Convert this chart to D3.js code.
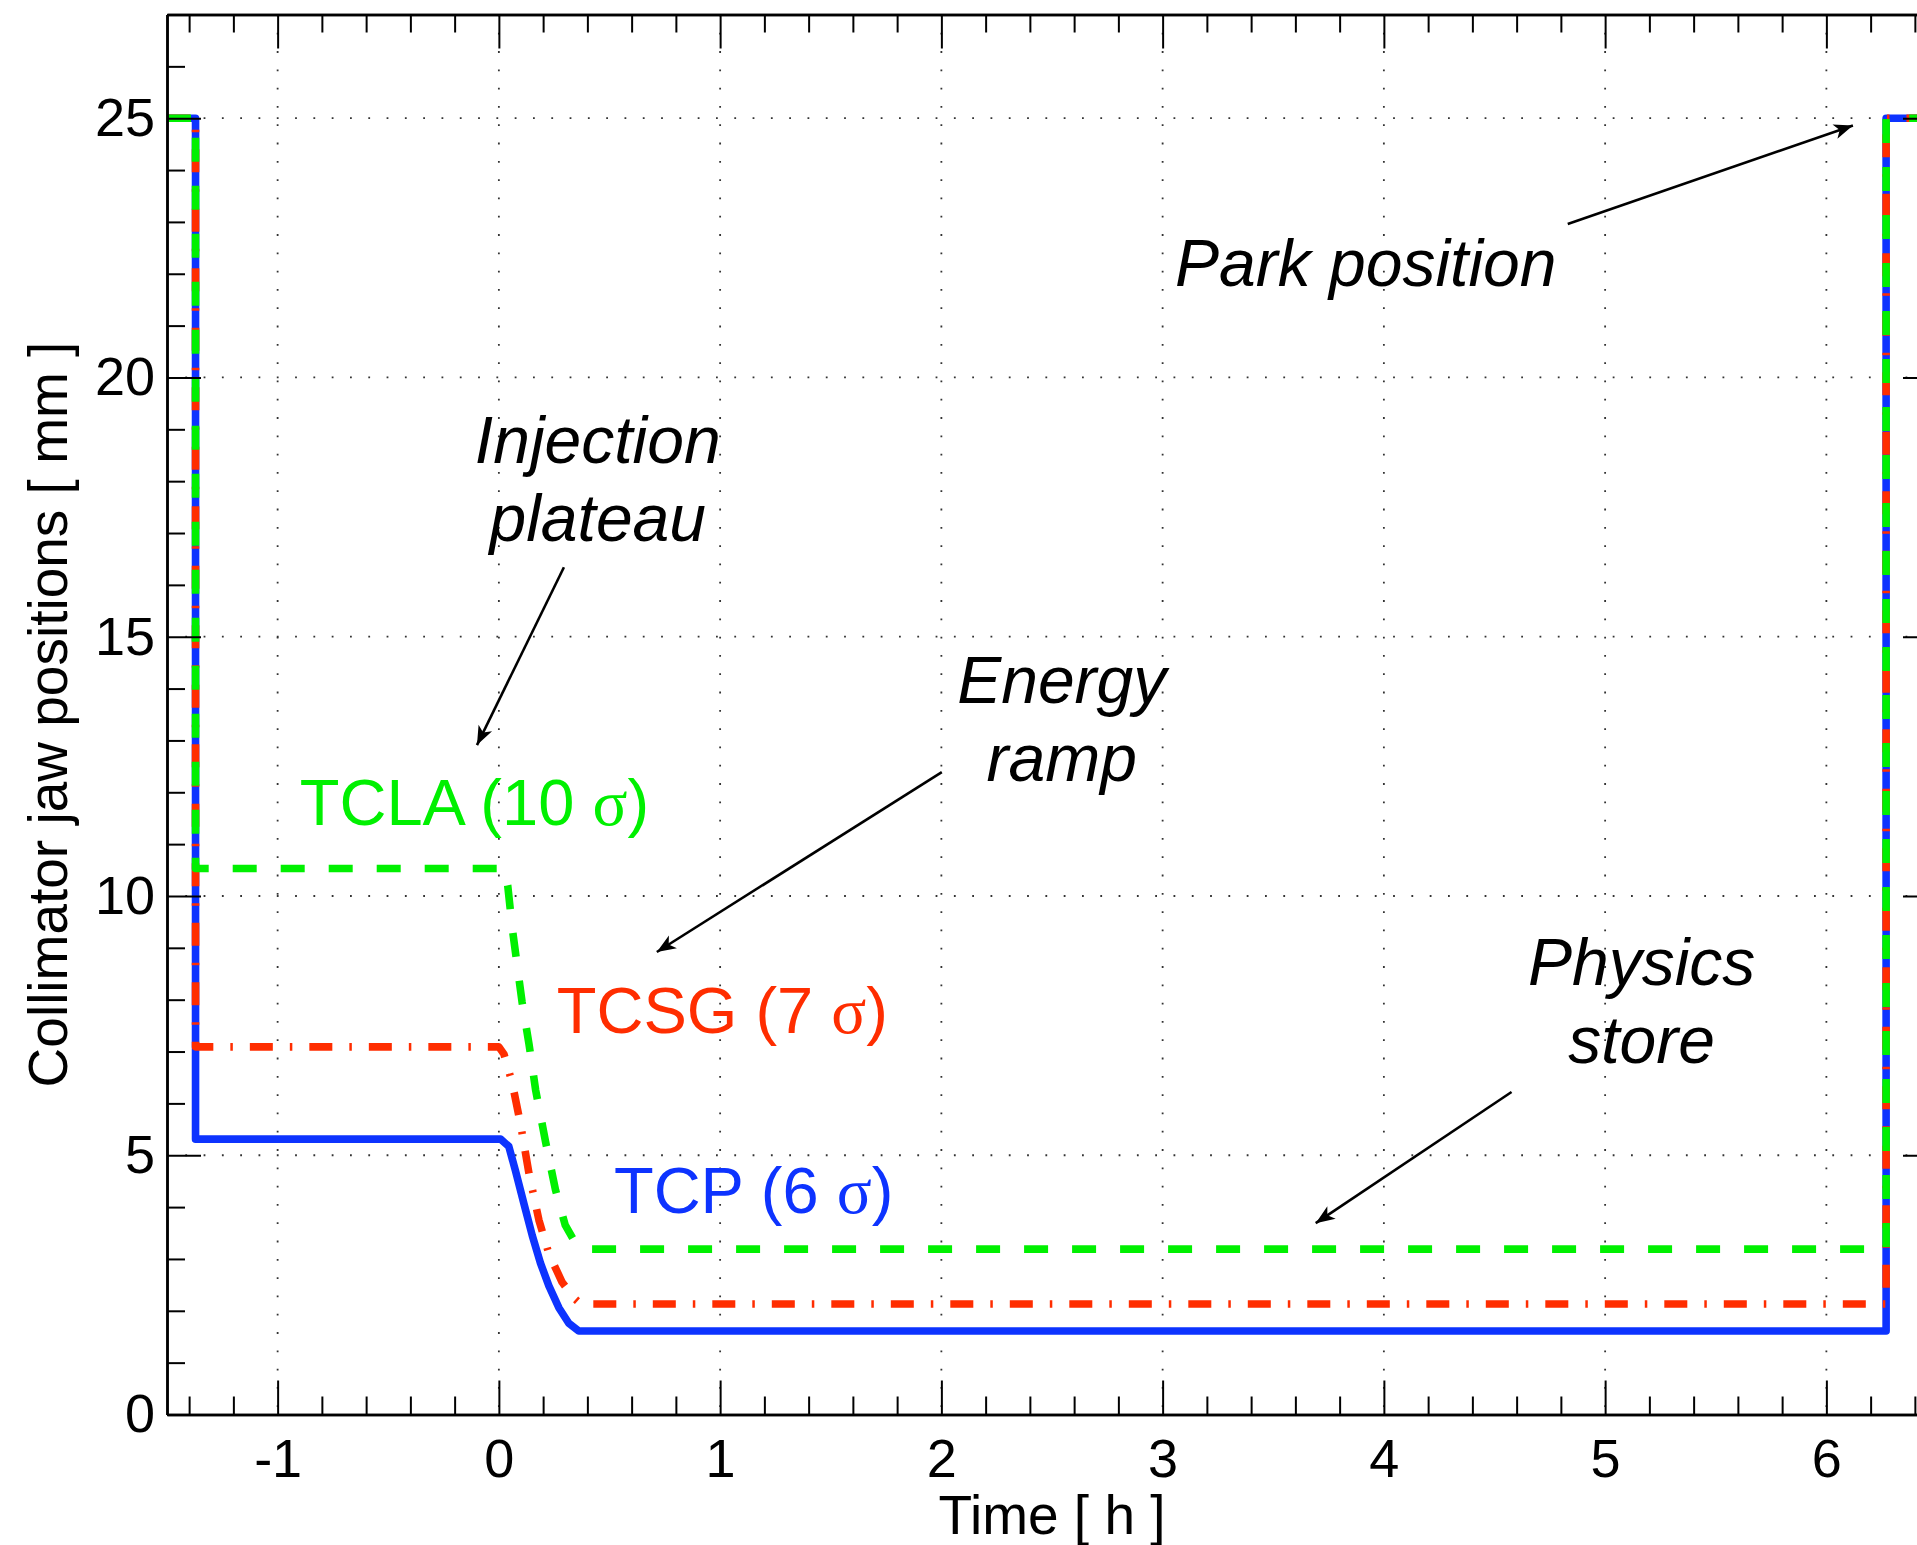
<!DOCTYPE html>
<html>
<head>
<meta charset="utf-8">
<script src="https://cdn.jsdelivr.net/npm/d3@7"></script>
<style>
  body { margin: 0; background: #fff; }
  svg { display: block; }
  text { white-space: pre; }
</style>
</head>
<body>
<div id="chart"></div>
<script>

// jaw positions [mm] versus time [h]
let tcpTime = [-1.5, -1.371, -1.371, 0.008, 0.045, 0.075, 0.113, 0.151, 0.188, 0.226, 0.271, 0.316, 0.361, 6.27, 6.27, 6.5];
let tcpPos  = [25, 25, 5.31, 5.31, 5.17, 4.7, 4.07, 3.45, 2.92, 2.48, 2.06, 1.76, 1.61, 1.61, 25, 25];

let tcsgTime = [-1.5, -1.371, -1.371, 0.0, 0.023, 0.06, 0.098, 0.136, 0.181, 0.226, 0.286, 0.339, 0.37, 6.27, 6.27, 6.5];
let tcsgPos  = [25, 25, 7.09, 7.09, 6.95, 6.4, 5.6, 4.65, 3.75, 3.1, 2.55, 2.25, 2.13, 2.13, 25, 25];

let tclaTime = [-1.5, -1.371, -1.371, 0.02, 0.04, 0.061, 0.105, 0.136, 0.166, 0.211, 0.256, 0.30, 0.34, 0.385, 6.27, 6.27, 6.5];
let tclaPos  = [25, 25, 10.53, 10.53, 10.2, 9.36, 7.95, 7.15, 6.26, 5.26, 4.33, 3.65, 3.35, 3.19, 3.19, 25, 25];

let xTicks = [-1, 0, 1, 2, 3, 4, 5, 6];
let yTicks = [0, 5, 10, 15, 20, 25];

let blue = "#0d33ff", red = "#ff2d00", green = "#00f000";
let sans = "'Liberation Sans', Arial, Helvetica, sans-serif";
let serif = "'Liberation Serif', 'Times New Roman', serif";

let width = 1917, height = 1545;

let svg = d3.select("#chart").append("svg")
svg.attr("width", width)
svg.attr("height", height)

// right edge of the axes box falls just outside the picture, as in the original
let x = d3.scaleLinear().domain([-1.5, 6.5]).range([167, 1937]);
let y = d3.scaleLinear().domain([0, 27]).range([1414.5, 14.5]);

let xMinor = d3.range(-14, 65, 2).map(d => d / 10).filter(d => !Number.isInteger(d));
let yMinor = d3.range(0, 28).filter(d => d % 5 != 0);

let defs = svg.append("defs");
defs.append("marker")
    .attr("id", "head")
    .attr("viewBox", "-20 -10 22 20")
    .attr("refX", 0).attr("refY", 0)
    .attr("markerWidth", 22).attr("markerHeight", 20)
    .attr("markerUnits", "userSpaceOnUse")
    .attr("orient", "auto")
  .append("path")
    .attr("d", "M0,0 L-19,-7.5 L-14,0 L-19,7.5 Z")
    .attr("fill", "black");

// dotted grid
let grid = svg.append("g")
    .attr("stroke", "#333")
    .attr("stroke-width", 1.8)
    .attr("stroke-dasharray", "1.8,16.5");

grid.selectAll(".gx")
    .data(xTicks)
    .enter()
    .append("line")
    .attr("x1", d => x(d)).attr("x2", d => x(d))
    .attr("y1", y(27)).attr("y2", y(0));

grid.selectAll(".gy")
    .data(yTicks.filter(d => d > 0))
    .enter()
    .append("line")
    .attr("x1", x(-1.5)).attr("x2", x(6.5))
    .attr("y1", d => y(d)).attr("y2", d => y(d));

// collimator curves
let series = [
  { time: tcpTime, pos: tcpPos, color: blue, dash: null },
  { time: tcsgTime, pos: tcsgPos, color: red, dash: "23,17,2.5,17" },
  { time: tclaTime, pos: tclaPos, color: green, dash: "24,24" }
];

let line = d3.line()
    .x(d => x(d[0]))
    .y(d => y(d[1]));

svg.selectAll(".curve")
    .data(series)
    .enter()
    .append("path")
    .attr("d", s => line(s.time.map((t, i) => [t, s.pos[i]])))
    .attr("fill", "none")
    .attr("stroke", s => s.color)
    .attr("stroke-width", 7.6)
    .attr("stroke-linejoin", "round")
    .attr("stroke-dasharray", s => s.dash);

// axes, ticks pointing inward on all four sides
function styleAxis(g) {
  g.select(".domain").attr("stroke", "black").attr("stroke-width", 2.5);
  g.selectAll(".tick line").attr("stroke", "black").attr("stroke-width", 2);
  g.selectAll("text").attr("font-family", sans).attr("font-size", 54).attr("fill", "black");
}

let fmt = d => String(d);

svg.append("g")
    .attr("transform", `translate(0,${y(0)})`)
    .call(d3.axisBottom(x).tickValues(xTicks).tickSize(-34).tickSizeOuter(0).tickPadding(24).tickFormat(fmt))
    .call(styleAxis);
svg.append("g")
    .attr("transform", `translate(0,${y(0)})`)
    .call(d3.axisBottom(x).tickValues(xMinor).tickSize(-18).tickSizeOuter(0).tickFormat(""))
    .call(styleAxis);

svg.append("g")
    .attr("transform", `translate(0,${y(27)})`)
    .call(d3.axisTop(x).tickValues(xTicks).tickSize(-34).tickSizeOuter(0).tickFormat(""))
    .call(styleAxis);
svg.append("g")
    .attr("transform", `translate(0,${y(27)})`)
    .call(d3.axisTop(x).tickValues(xMinor).tickSize(-18).tickSizeOuter(0).tickFormat(""))
    .call(styleAxis);

svg.append("g")
    .attr("transform", `translate(${x(-1.5)},0)`)
    .call(d3.axisLeft(y).tickValues(yTicks).tickSize(-34).tickSizeOuter(0).tickPadding(12).tickFormat(fmt))
    .call(styleAxis);
svg.append("g")
    .attr("transform", `translate(${x(-1.5)},0)`)
    .call(d3.axisLeft(y).tickValues(yMinor).tickSize(-18).tickSizeOuter(0).tickFormat(""))
    .call(styleAxis);

svg.append("g")
    .attr("transform", `translate(${x(6.5)},0)`)
    .call(d3.axisRight(y).tickValues(yTicks).tickSize(-34).tickSizeOuter(0).tickFormat(""))
    .call(styleAxis);
svg.append("g")
    .attr("transform", `translate(${x(6.5)},0)`)
    .call(d3.axisRight(y).tickValues(yMinor).tickSize(-18).tickSizeOuter(0).tickFormat(""))
    .call(styleAxis);

// axis titles
svg.append("text")
    .attr("x", x(2.5)).attr("y", 1534)
    .attr("text-anchor", "middle")
    .attr("font-family", sans).attr("font-size", 55)
    .text("Time [ h ]");

svg.append("text")
    .attr("transform", `translate(67,${y(13.5)}) rotate(-90)`)
    .attr("text-anchor", "middle")
    .attr("font-family", sans).attr("font-size", 55)
    .text("Collimator jaw positions [ mm ]");

// series labels, sigma set in a serif face
let seriesLabels = [
  { name: "TCLA (10 ", t: -0.9, v: 11.37, color: green },
  { name: "TCSG (7 ", t: 0.262, v: 7.36, color: red },
  { name: "TCP (6 ", t: 0.52, v: 3.89, color: blue }
];

seriesLabels.forEach(function (l) {
  let txt = svg.append("text")
      .attr("x", x(l.t)).attr("y", y(l.v))
      .attr("fill", l.color)
      .attr("font-family", sans).attr("font-size", 65);
  txt.append("tspan").text(l.name);
  txt.append("tspan").attr("font-family", serif).text("σ");
  txt.append("tspan").text(")");
});

// phase annotations
let notes = [
  { lines: ["Injection", "plateau"], t: 0.447, v: 18.35 },
  { lines: ["Energy", "ramp"], t: 2.544, v: 13.72 },
  { lines: ["Physics", "store"], t: 5.165, v: 8.28 },
  { lines: ["Park position"], t: 3.918, v: 21.77 }
];

notes.forEach(function (n) {
  n.lines.forEach(function (s, i) {
    svg.append("text")
        .attr("x", x(n.t)).attr("y", y(n.v) + i * 78)
        .attr("text-anchor", "middle")
        .attr("font-family", sans).attr("font-size", 66)
        .attr("font-style", "italic")
        .text(s);
  });
});

let arrows = [
  { from: [0.294, 16.34], to: [-0.099, 12.91] },
  { from: [2.002, 12.39], to: [0.714, 8.92] },
  { from: [4.577, 6.22], to: [3.692, 3.69] },
  { from: [4.831, 22.96], to: [6.12, 24.86] }
];

svg.selectAll(".arrow")
    .data(arrows)
    .enter()
    .append("line")
    .attr("x1", d => x(d.from[0])).attr("y1", d => y(d.from[1]))
    .attr("x2", d => x(d.to[0])).attr("y2", d => y(d.to[1]))
    .attr("stroke", "black")
    .attr("stroke-width", 2.6)
    .attr("marker-end", "url(#head)");

</script>
</body>
</html>
